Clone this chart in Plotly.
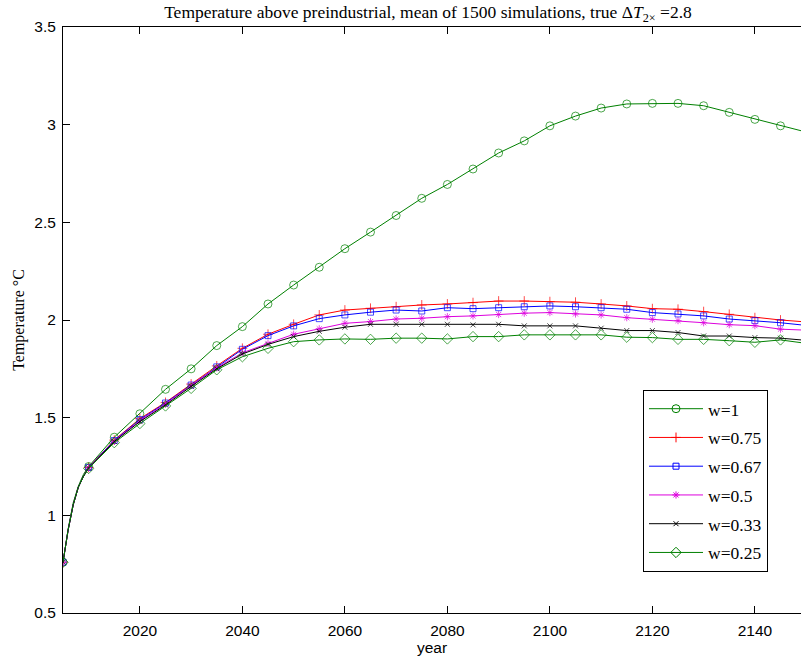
import plotly.graph_objects as go

years = [2005, 2006, 2007, 2008, 2009, 2010, 2015, 2020, 2025, 2030, 2035, 2040, 2045,
         2050, 2055, 2060, 2065, 2070, 2075, 2080, 2085, 2090, 2095, 2100, 2105,
         2110, 2115, 2120, 2125, 2130, 2135, 2140, 2145, 2149]

w100 = [0.76, 0.93, 1.065, 1.15, 1.21, 1.25, 1.40, 1.52, 1.645, 1.75, 1.869, 1.966, 2.082,
        2.179, 2.27, 2.365, 2.45, 2.535, 2.623, 2.694, 2.773, 2.855, 2.917, 2.994, 3.044,
        3.085, 3.106, 3.109, 3.109, 3.097, 3.063, 3.027, 2.994, 2.969]
w075 = [0.76, 0.925, 1.055, 1.145, 1.20, 1.245, 1.385, 1.495, 1.578, 1.672, 1.765, 1.855, 1.927,
        1.978, 2.026, 2.051, 2.06, 2.068, 2.077, 2.082, 2.089, 2.097, 2.097, 2.094, 2.091,
        2.082, 2.072, 2.058, 2.055, 2.043, 2.029, 2.012, 2.0, 1.992]
w067 = [0.76, 0.925, 1.055, 1.145, 1.20, 1.245, 1.383, 1.49, 1.575, 1.667, 1.76, 1.85, 1.92,
        1.970, 2.007, 2.026, 2.04, 2.051, 2.046, 2.063, 2.058, 2.063, 2.068, 2.072, 2.068,
        2.063, 2.055, 2.038, 2.031, 2.021, 2.005, 1.997, 1.986, 1.975]
w050 = [0.76, 0.925, 1.055, 1.145, 1.20, 1.243, 1.38, 1.485, 1.57, 1.665, 1.755, 1.832, 1.88,
        1.927, 1.955, 1.983, 1.992, 2.005, 2.009, 2.017, 2.021, 2.028, 2.035, 2.038, 2.031,
        2.026, 2.012, 2.004, 1.997, 1.986, 1.976, 1.971, 1.953, 1.949]
w033 = [0.76, 0.925, 1.055, 1.145, 1.20, 1.242, 1.378, 1.48, 1.565, 1.66, 1.75, 1.826, 1.875,
        1.915, 1.942, 1.963, 1.978, 1.978, 1.978, 1.978, 1.975, 1.978, 1.970, 1.970, 1.970,
        1.958, 1.946, 1.946, 1.936, 1.918, 1.918, 1.910, 1.907, 1.898]
w025 = [0.76, 0.925, 1.055, 1.145, 1.20, 1.24, 1.372, 1.47, 1.56, 1.65, 1.745, 1.812, 1.855,
        1.889, 1.898, 1.903, 1.901, 1.907, 1.907, 1.903, 1.915, 1.915, 1.924, 1.924, 1.924,
        1.924, 1.912, 1.910, 1.901, 1.901, 1.894, 1.886, 1.898, 1.884]

series = [
    ("w=1", w100, "#008000", "circle-open", 8),
    ("w=0.75", w075, "#FF0000", "cross-thin-open", 7),
    ("w=0.67", w067, "#0000FF", "square-open", 6),
    ("w=0.5", w050, "#DD00DD", "asterisk-open", 6),
    ("w=0.33", w033, "#000000", "x-thin-open", 5),
    ("w=0.25", w025, "#008000", "diamond-open", 8),
]

fig = go.Figure()
for name, vals, color, sym, size in series:
    sizes = [size if (y % 5 == 0) else 0 for y in years]
    fig.add_trace(go.Scatter(
        x=years, y=vals, mode="lines+markers", name=name, legendgroup=name,
        showlegend=False,
        line=dict(color=color, width=1),
        marker=dict(symbol=sym, size=sizes, color=color, line=dict(color=color, width=1)),
    ))
    fig.add_trace(go.Scatter(
        x=[None], y=[None], mode="lines+markers", name=name, legendgroup=name,
        line=dict(color=color, width=1),
        marker=dict(symbol=sym, size=size, color=color, line=dict(color=color, width=1)),
    ))

W, H = 801, 662
L, T, B = 63, 27, 48.7
x0 = 2005
x1 = x0 + (W - L) / 5.125

fig.update_layout(
    width=W, height=H,
    margin=dict(l=L, r=0, t=T, b=B, pad=0, autoexpand=False),
    paper_bgcolor="white", plot_bgcolor="white",
    title=dict(
        text="Temperature above preindustrial, mean of 1500 simulations, true Δ<i>T</i><sub>2×</sub> =2.8",
        x=428 / W, xanchor="center", xref="container",
        y=1 - 12 / H, yanchor="middle", yref="container",
        font=dict(family="Liberation Serif", size=17.5, color="black"),
    ),
    xaxis=dict(
        range=[x0, x1], tickvals=[2020, 2040, 2060, 2080, 2100, 2120, 2140],
        ticks="inside", ticklen=7, tickwidth=1, tickcolor="black",
        showline=True, linecolor="black", linewidth=1, mirror="ticks",
        showgrid=False, zeroline=False,
        tickfont=dict(family="Liberation Sans", size=15.5, color="black"),
        ticklabelstandoff=3,
        title=dict(text="year", font=dict(family="Liberation Sans", size=15.5, color="black"), standoff=2),
    ),
    yaxis=dict(
        range=[0.5, 3.5], dtick=0.5, tick0=0.5,
        ticks="inside", ticklen=7, tickwidth=1, tickcolor="black",
        showline=True, linecolor="black", linewidth=1, mirror=False,
        showgrid=False, zeroline=False,
        tickfont=dict(family="Liberation Sans", size=15.5, color="black"),
        ticklabelstandoff=3,
        title=dict(text="Temperature °C", font=dict(family="Liberation Serif", size=16, color="black"), standoff=5),
    ),
    legend=dict(
        x=(643 - L) / (W - L), y=(H - B - 390) / (H - B - T),
        xanchor="left", yanchor="top",
        bgcolor="white", bordercolor="black", borderwidth=1,
        font=dict(family="Liberation Serif", size=17.5, color="black"),
        traceorder="grouped", tracegroupgap=3, itemwidth=54,
    ),
)

fig.write_html("out.html", config={"displayModeBar": False},
               post_script="document.body.style.margin='0';")
